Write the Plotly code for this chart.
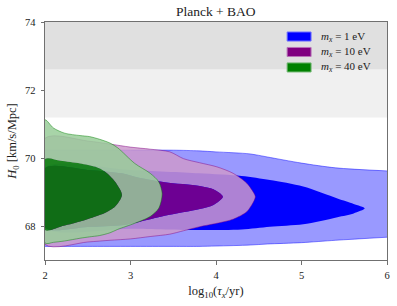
import plotly.graph_objects as go

# ---------------- data ----------------
H0_local = 74.03
H0_local_err = 1.42

# m_x = 1 eV
tau_b2 = [2.0, 2.5, 3.0, 3.5, 3.8, 4.0, 4.4, 4.6, 5.0, 5.4, 6.0]
b2_top = [70.23, 70.23, 70.23, 70.23, 70.21, 70.18, 70.12, 70.03, 69.85, 69.71, 69.62]
b2_bot = [67.40, 67.40, 67.40, 67.40, 67.40, 67.41, 67.44, 67.47, 67.51, 67.58, 67.67]
tau_b1 = [2.0, 3.0, 3.8, 4.3, 4.63, 5.02, 5.42, 5.61]
b1_top = [69.72, 69.65, 69.55, 69.47, 69.35, 69.16, 68.81, 68.65]
b1_bot = [67.95, 67.92, 67.88, 67.90, 67.98, 68.05, 68.26, 68.37]
b1_tip = (5.74, 68.52)

# m_x = 10 eV
tau_p2 = [2.0, 2.5, 2.76, 3.0, 3.23, 3.46, 3.62, 3.81, 4.01, 4.2, 4.36, 4.44]
p2_top = [70.58, 70.50, 70.41, 70.32, 70.26, 70.18, 69.98, 69.86, 69.74, 69.55, 69.26, 68.98]
p2_bot = [67.46, 67.53, 67.58, 67.62, 67.69, 67.76, 67.86, 67.98, 68.08, 68.20, 68.42, 68.72]
p2_tip = (4.46, 68.86)
tau_p1 = [2.0, 2.5, 2.9, 3.1, 3.4, 3.81, 3.97]
p1_top = [69.70, 69.65, 69.55, 69.42, 69.29, 69.18, 69.08]
p1_bot = [67.95, 67.97, 68.02, 68.12, 68.30, 68.50, 68.62]
p1_tip = (4.08, 68.86)

# m_x = 40 eV
tau_g2 = [2.0, 2.1, 2.23, 2.41, 2.52, 2.64, 2.76, 2.85, 3.05, 3.23, 3.33]
g2_top = [71.12, 70.88, 70.73, 70.66, 70.63, 70.55, 70.44, 70.30, 69.84, 69.55, 69.30]
g2_bot = [67.50, 67.52, 67.56, 67.64, 67.68, 67.72, 67.80, 67.90, 68.08, 68.28, 68.52]
g2_tip = (3.37, 68.95)
tau_g1 = [2.0, 2.18, 2.41, 2.59, 2.7, 2.82]
g1_top = [69.97, 69.92, 69.84, 69.74, 69.60, 69.30]
g1_bot = [67.88, 67.98, 68.13, 68.28, 68.38, 68.57]
g1_tip = (2.9, 68.91)

labels = ["<i>m</i><sub><i>x</i></sub> = 1 eV",
          "<i>m</i><sub><i>x</i></sub> = 10 eV",
          "<i>m</i><sub><i>x</i></sub> = 40 eV"]
x_ticks = [2, 3, 4, 5, 6]
y_ticks = [68, 70, 72, 74]

# ---------------- styling ----------------
FONT = "Liberation Serif"
TXT = "#222"
main_rgb = [(0, 0, 255), (128, 0, 128), (0, 128, 0)]
alphas = [1.0, 0.85, 0.85]
SPL = dict(shape="spline", smoothing=0.8)


def pale(c, f=0.6):
    return tuple(int(round(v * (1 - f) + 255 * f)) for v in c)


def rgba(c, a):
    return f"rgba({c[0]},{c[1]},{c[2]},{a})"


def ring(tau, top, bot, tip=None):
    xs = list(tau)
    ys = list(top)
    if tip is not None:
        xs.append(tip[0]); ys.append(tip[1])
    xs += tau[::-1]
    ys += bot[::-1]
    xs.append(tau[0]); ys.append(top[0])
    return xs, ys


fig = go.Figure()

models = [
    (tau_b2, b2_top, b2_bot, None, tau_b1, b1_top, b1_bot, b1_tip),
    (tau_p2, p2_top, p2_bot, p2_tip, tau_p1, p1_top, p1_bot, p1_tip),
    (tau_g2, g2_top, g2_bot, g2_tip, tau_g1, g1_top, g1_bot, g1_tip),
]

for i, (t2, top2, bot2, tip2, t1, top1, bot1, tip1) in enumerate(models):
    c = main_rgb[i]
    a = alphas[i]
    ix, iy = ring(t1, top1, bot1, tip1)
    if tip2 is None:
        # open band reaching the right edge: fill between lower and upper edges
        fig.add_trace(go.Scatter(x=t2, y=bot2, mode="lines",
                                 line=dict(color=rgba(c, 0.45), width=1, **SPL),
                                 hoverinfo="skip", showlegend=False))
        fig.add_trace(go.Scatter(x=t2, y=top2, mode="lines", fill="tonexty",
                                 fillcolor=rgba(pale(c), a),
                                 line=dict(color=rgba(c, 0.45), width=1, **SPL),
                                 hoverinfo="skip", showlegend=False))
        fig.add_trace(go.Scatter(x=ix, y=iy, mode="lines", fill="toself",
                                 fillcolor=rgba(c, a), line=dict(width=0, **SPL),
                                 hoverinfo="skip", showlegend=False))
        continue
    ox, oy = ring(t2, top2, bot2, tip2)
    # 2-sigma band: outer ring with the 1-sigma ring (reversed) as a hole
    fig.add_trace(go.Scatter(x=ox + [None] + ix[::-1], y=oy + [None] + iy[::-1],
                             mode="lines", fill="toself",
                             fillcolor=rgba(pale(c), a), line=dict(width=0, **SPL),
                             hoverinfo="skip", showlegend=False))
    # 1-sigma region
    fig.add_trace(go.Scatter(x=ix, y=iy, mode="lines", fill="toself",
                             fillcolor=rgba(c, a), line=dict(width=0, **SPL),
                             hoverinfo="skip", showlegend=False))
    # 2-sigma outline
    fig.add_trace(go.Scatter(x=ox, y=oy, mode="lines",
                             line=dict(color=rgba(c, 0.45), width=1, **SPL),
                             hoverinfo="skip", showlegend=False))

# local H0 bands
fig.add_shape(type="rect", xref="x domain", yref="y", x0=0, x1=1,
              y0=H0_local - 2 * H0_local_err, y1=H0_local + 2 * H0_local_err,
              fillcolor="#f0f0f0", line=dict(width=0), layer="below")
fig.add_shape(type="rect", xref="x domain", yref="y", x0=0, x1=1,
              y0=H0_local - H0_local_err, y1=H0_local + H0_local_err,
              fillcolor="#e0e0e0", line=dict(width=0), layer="below")

# legend (patches + labels, upper right)
leg_x0, leg_x1, leg_tx = 0.708, 0.778, 0.80
leg_rows = [0.939, 0.874, 0.809]
leg_h = 0.019
for i, lab in enumerate(labels):
    c = main_rgb[i]
    fig.add_shape(type="rect", xref="paper", yref="paper",
                  x0=leg_x0, x1=leg_x1, y0=leg_rows[i] - leg_h, y1=leg_rows[i] + leg_h,
                  fillcolor=rgba(c, 1), line=dict(color=rgba(pale(c, 0.45), 1), width=1))
    fig.add_annotation(xref="paper", yref="paper", x=leg_tx, y=leg_rows[i],
                       xanchor="left", yanchor="middle", text=lab, showarrow=False,
                       font=dict(family=FONT, size=11, color=TXT))

axis_common = dict(showgrid=False, zeroline=False, showline=True, mirror=True,
                   linecolor="#707070", linewidth=1, ticks="outside", ticklen=3.5,
                   tickcolor="#707070", tickwidth=1, automargin=False,
                   tickfont=dict(family=FONT, size=10.5, color=TXT))

fig.update_layout(
    width=397, height=306,
    margin=dict(l=45, r=10, t=22, b=46, autoexpand=False),
    paper_bgcolor="white", plot_bgcolor="white",
    title=dict(text="Planck + BAO", x=0.5435, xanchor="center", y=0.962, yanchor="middle",
               font=dict(family=FONT, size=13.5, color=TXT)),
    xaxis=dict(range=[2, 6], tickvals=x_ticks, ticktext=[str(v) for v in x_ticks],
               ticklabelstandoff=2,
               title=dict(text="log<sub>10</sub>(<i>τ</i><sub><i>x</i></sub>/yr)",
                          font=dict(family=FONT, size=12.5, color=TXT), standoff=6),
               **axis_common),
    yaxis=dict(range=[67, 74], tickvals=y_ticks, ticktext=[str(v) for v in y_ticks],
               ticklabelstandoff=3,
               title=dict(text="<i>H</i><sub>0</sub> [km/s/Mpc]",
                          font=dict(family=FONT, size=12.5, color=TXT), standoff=5),
               **axis_common),
    showlegend=False,
)

fig.write_html("out.html", config={"displayModeBar": False},
               post_script="document.body.style.margin='0';document.body.style.overflow='hidden';")
